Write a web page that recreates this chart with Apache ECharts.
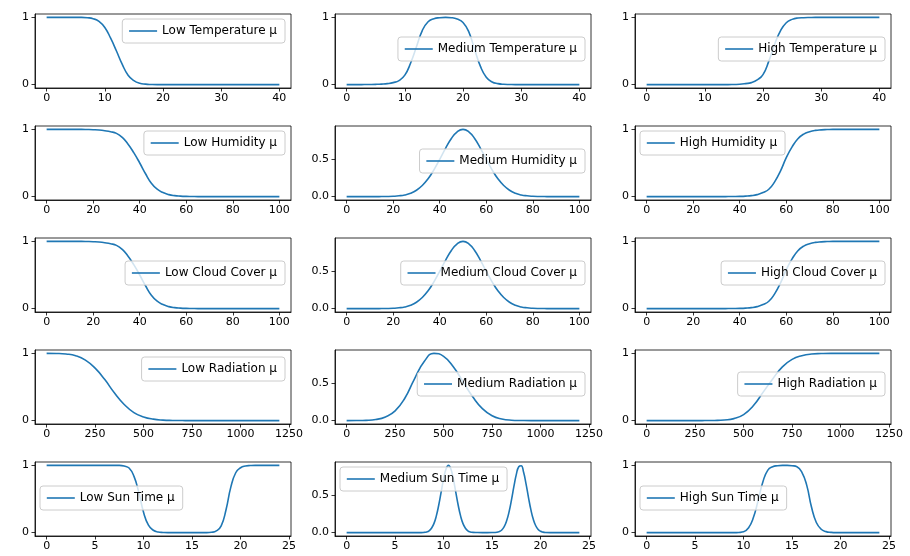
<!DOCTYPE html>
<html>
<head>
<meta charset="utf-8">
<script src="https://cdn.jsdelivr.net/npm/echarts@6/dist/echarts.min.js"></script>
<style>
  html, body { margin: 0; padding: 0; background: #fff; }
  #chart { width: 910px; height: 556px; }
</style>
</head>
<body>
<div id="chart"></div>
<script>
// x samples for each input variable
const tempX = [0,1,2,3,4,5,6,7,8,9,10,11,12,13,14,15,16,17,18,19,20,21,22,23,24,25,26,27,28,29,30,31,32,33,34,35,36,37,38,39,40]
const humX = [0,2.5,5,7.5,10,12.5,15,17.5,20,22.5,25,27.5,30,32.5,35,37.5,40,42.5,45,47.5,50,52.5,55,57.5,60,62.5,65,67.5,70,72.5,75,77.5,80,82.5,85,87.5,90,92.5,95,97.5,100]
const cloudX = humX
const radX = [0,50,100,150,200,250,300,350,400,450,500,550,600,650,700,750,800,850,900,950,1000,1050,1100,1150,1200]
const sunX = [0,0.5,1,1.5,2,2.5,3,3.5,4,4.5,5,5.5,6,6.5,7,7.5,8,8.5,9,9.5,10,10.5,11,11.5,12,12.5,13,13.5,14,14.5,15,15.5,16,16.5,17,17.5,18,18.5,19,19.5,20,20.5,21,21.5,22,22.5,23,23.5,24]
// finer samples around the two narrow peaks
const medSunX = [0,1,2,3,4,5,6,7,7.5,8,8.25,8.5,8.75,9,9.25,9.5,9.75,10,10.25,10.5,10.75,11,11.25,11.5,11.75,12,12.25,12.5,12.75,13,13.5,14,14.5,15,15.5,15.75,16,16.25,16.5,16.75,17,17.25,17.5,17.75,18,18.25,18.5,18.75,19,19.25,19.5,19.75,20,20.25,20.5,21,22,23,24]

// membership values
const lowTemp = [1,1,1,1,1,1,1,0.995,0.98,0.94,0.85,0.69,0.5,0.3,0.14,0.06,0.02,0.007,0.002,0,0,0,0,0,0,0,0,0,0,0,0,0,0,0,0,0,0,0,0,0,0]
const medTemp = [0,0,0,0.001,0.002,0.004,0.008,0.015,0.03,0.06,0.14,0.32,0.56,0.8,0.93,0.975,0.99,0.995,0.99,0.97,0.92,0.78,0.52,0.27,0.11,0.04,0.015,0.005,0.002,0,0,0,0,0,0,0,0,0,0,0,0]
const highTemp = [0,0,0,0,0,0,0,0,0,0,0,0,0,0,0,0.002,0.005,0.015,0.03,0.07,0.15,0.35,0.6,0.8,0.92,0.97,0.99,0.995,0.998,1,1,1,1,1,1,1,1,1,1,1,1]

const lowHum = [1,1,1,1,1,1,1,0.998,0.995,0.99,0.98,0.965,0.94,0.88,0.78,0.65,0.5,0.34,0.2,0.11,0.06,0.03,0.015,0.008,0.004,0.002,0,0,0,0,0,0,0,0,0,0,0,0,0,0,0]
const medHum = [0,0,0,0,0,0,0.001,0.002,0.005,0.011,0.023,0.046,0.086,0.149,0.239,0.359,0.5,0.646,0.777,0.867,0.9,0.867,0.777,0.646,0.5,0.359,0.239,0.149,0.086,0.046,0.023,0.011,0.005,0.002,0.001,0,0,0,0,0,0]
const highHum = [0,0,0,0,0,0,0,0,0,0,0,0,0,0,0.001,0.002,0.004,0.008,0.015,0.03,0.06,0.11,0.22,0.38,0.58,0.74,0.86,0.93,0.965,0.985,0.993,0.997,1,1,1,1,1,1,1,1,1]

const lowCloud = [1,1,1,1,1,1,1,0.998,0.995,0.99,0.98,0.965,0.94,0.88,0.78,0.65,0.5,0.34,0.2,0.11,0.06,0.03,0.015,0.008,0.004,0.002,0,0,0,0,0,0,0,0,0,0,0,0,0,0,0]
const medCloud = [0,0,0,0,0,0,0.001,0.002,0.005,0.011,0.023,0.046,0.086,0.149,0.239,0.359,0.5,0.646,0.777,0.867,0.9,0.867,0.777,0.646,0.5,0.359,0.239,0.149,0.086,0.046,0.023,0.011,0.005,0.002,0.001,0,0,0,0,0,0]
const highCloud = [0,0,0,0,0,0,0,0,0,0,0,0,0,0,0.001,0.002,0.004,0.008,0.015,0.03,0.06,0.11,0.22,0.38,0.58,0.74,0.86,0.93,0.965,0.985,0.993,0.997,1,1,1,1,1,1,1,1,1]

const lowRad = [1,0.998,0.99,0.965,0.9,0.78,0.61,0.41,0.24,0.12,0.055,0.022,0.008,0.003,0.001,0,0,0,0,0,0,0,0,0,0]
const medRad = [0,0.001,0.004,0.015,0.05,0.13,0.3,0.56,0.79,0.9,0.86,0.72,0.52,0.32,0.16,0.065,0.022,0.006,0.002,0,0,0,0,0,0]
const highRad = [0,0,0,0,0,0,0.001,0.003,0.01,0.03,0.09,0.22,0.42,0.62,0.8,0.91,0.965,0.99,0.997,1,1,1,1,1,1]

const lowSun = [1,1,1,1,1,1,1,1,1,1,1,1,1,1,1,1,0.99,0.96,0.84,0.6,0.3,0.11,0.035,0.01,0.003,0,0,0,0,0,0,0,0,0,0.005,0.025,0.1,0.34,0.68,0.89,0.965,0.99,0.997,1,1,1,1,1,1]
const medSun = [0,0,0,0,0,0,0,0,0,0.004,0.01,0.025,0.059,0.12,0.224,0.37,0.546,0.72,0.85,0.9,0.85,0.72,0.546,0.37,0.224,0.12,0.059,0.025,0.01,0.004,0.001,0,0,0.001,0.005,0.015,0.036,0.08,0.158,0.278,0.438,0.618,0.78,0.882,0.895,0.807,0.653,0.473,0.307,0.178,0.092,0.043,0.018,0.007,0.002,0,0,0,0]
const highSun = [0,0,0,0,0,0,0,0,0,0,0,0,0,0,0,0,0,0,0,0.003,0.012,0.07,0.22,0.48,0.76,0.93,0.98,0.995,1,1,0.995,0.98,0.9,0.71,0.38,0.15,0.05,0.015,0.004,0,0,0,0,0,0,0,0,0,0]

// tick labels
const tempTicks = [0,10,20,30,40]
const humTicks = [0,20,40,60,80,100]
const radTicks = [0,250,500,750,1000,1250]
const sunTicks = [0,5,10,15,20,25]
const unitTicks = [0,1]
const halfTicks = [0,0.5]

const FONT = 'DejaVu Sans'
const BLUE = '#1f77b4'

// layout of the 5x3 grid
const colLeft = [35, 335, 635]
const rowTop = [14, 126, 238, 350, 462]
const cellW = 256
const cellH = 74

const panels = [
  { name: 'Low Temperature μ', x: tempX, y: lowTemp, xr: [-2, 42], xt: tempTicks, yt: unitTicks, lg: { right: 625, top: 19 } },
  { name: 'Medium Temperature μ', x: tempX, y: medTemp, xr: [-2, 42], xt: tempTicks, yt: unitTicks, lg: { right: 325, top: 37 } },
  { name: 'High Temperature μ', x: tempX, y: highTemp, xr: [-2, 42], xt: tempTicks, yt: unitTicks, lg: { right: 25, top: 37 } },
  { name: 'Low Humidity μ', x: humX, y: lowHum, xr: [-5, 105], xt: humTicks, yt: unitTicks, lg: { right: 625, top: 131 } },
  { name: 'Medium Humidity μ', x: humX, y: medHum, xr: [-5, 105], xt: humTicks, yt: halfTicks, lg: { right: 325, top: 149 } },
  { name: 'High Humidity μ', x: humX, y: highHum, xr: [-5, 105], xt: humTicks, yt: unitTicks, lg: { left: 640, top: 131 } },
  { name: 'Low Cloud Cover μ', x: cloudX, y: lowCloud, xr: [-5, 105], xt: humTicks, yt: unitTicks, lg: { right: 625, top: 261 } },
  { name: 'Medium Cloud Cover μ', x: cloudX, y: medCloud, xr: [-5, 105], xt: humTicks, yt: halfTicks, lg: { right: 325, top: 261 } },
  { name: 'High Cloud Cover μ', x: cloudX, y: highCloud, xr: [-5, 105], xt: humTicks, yt: unitTicks, lg: { right: 25, top: 261 } },
  { name: 'Low Radiation μ', x: radX, y: lowRad, xr: [-60, 1260], xt: radTicks, yt: unitTicks, lg: { right: 625, top: 357 } },
  { name: 'Medium Radiation μ', x: radX, y: medRad, xr: [-60, 1260], xt: radTicks, yt: halfTicks, lg: { right: 325, top: 372 } },
  { name: 'High Radiation μ', x: radX, y: highRad, xr: [-60, 1260], xt: radTicks, yt: unitTicks, lg: { right: 25, top: 372 } },
  { name: 'Low Sun Time μ', x: sunX, y: lowSun, xr: [-1.2, 25.2], xt: sunTicks, yt: unitTicks, lg: { left: 40, top: 486 } },
  { name: 'Medium Sun Time μ', x: medSunX, y: medSun, xr: [-1.2, 25.2], xt: sunTicks, yt: halfTicks, lg: { left: 340, top: 467 } },
  { name: 'High Sun Time μ', x: sunX, y: highSun, xr: [-1.2, 25.2], xt: sunTicks, yt: unitTicks, lg: { left: 640, top: 486 } },
]

const tickStyle = { show: true, length: 3.5, lineStyle: { color: '#000', width: 0.8 } }
const labelText = { color: '#000', fontSize: 11, fontFamily: FONT }
const frameLine = { show: true, onZero: false, lineStyle: { color: '#000', width: 0.8 } }

const grid = [], xAxis = [], yAxis = [], series = [], legend = []

panels.forEach((p, i) => {
  const r = Math.floor(i / 3), c = i % 3
  grid.push({
    left: colLeft[c], top: rowTop[r], width: cellW, height: cellH,
    show: true, borderColor: '#000', borderWidth: 0.8, backgroundColor: '#fff',
  })
  xAxis.push({
    type: 'value', gridIndex: i, min: p.xr[0], max: p.xr[1],
    axisLine: frameLine,
    axisTick: { ...tickStyle, customValues: p.xt },
    axisLabel: { ...labelText, margin: 5, customValues: p.xt, formatter: (v) => String(v) },
    splitLine: { show: false },
  })
  const peak = Math.max(...p.y)
  const dec = p.yt[1] === 1 ? 0 : 1
  yAxis.push({
    type: 'value', gridIndex: i, min: -0.05 * peak, max: 1.05 * peak,
    axisLine: frameLine,
    axisTick: { ...tickStyle, customValues: p.yt },
    axisLabel: { ...labelText, margin: 6, customValues: p.yt, formatter: (v) => v.toFixed(dec) },
    splitLine: { show: false },
  })
  series.push({
    name: p.name, type: 'line', xAxisIndex: i, yAxisIndex: i,
    data: p.x.map((xv, k) => [xv, p.y[k]]),
    symbol: 'none', smooth: 0.5,
    lineStyle: { color: BLUE, width: 1.6 }, itemStyle: { color: BLUE },
  })
  legend.push({
    data: [p.name], ...p.lg,
    backgroundColor: 'rgba(255,255,255,0.8)', borderColor: '#cccccc', borderWidth: 1, borderRadius: 3,
    padding: [6, 8, 6, 6], itemWidth: 28, itemHeight: 14,
    itemStyle: { opacity: 0 },
    lineStyle: { width: 1.6 },
    textStyle: { color: '#000', fontSize: 12, fontFamily: FONT },
  })
})

const chart = echarts.init(document.getElementById('chart'))
chart.setOption({
  backgroundColor: '#fff',
  animation: false,
  textStyle: { fontFamily: FONT },
  grid, xAxis, yAxis, series, legend,
})
</script>
</body>
</html>
